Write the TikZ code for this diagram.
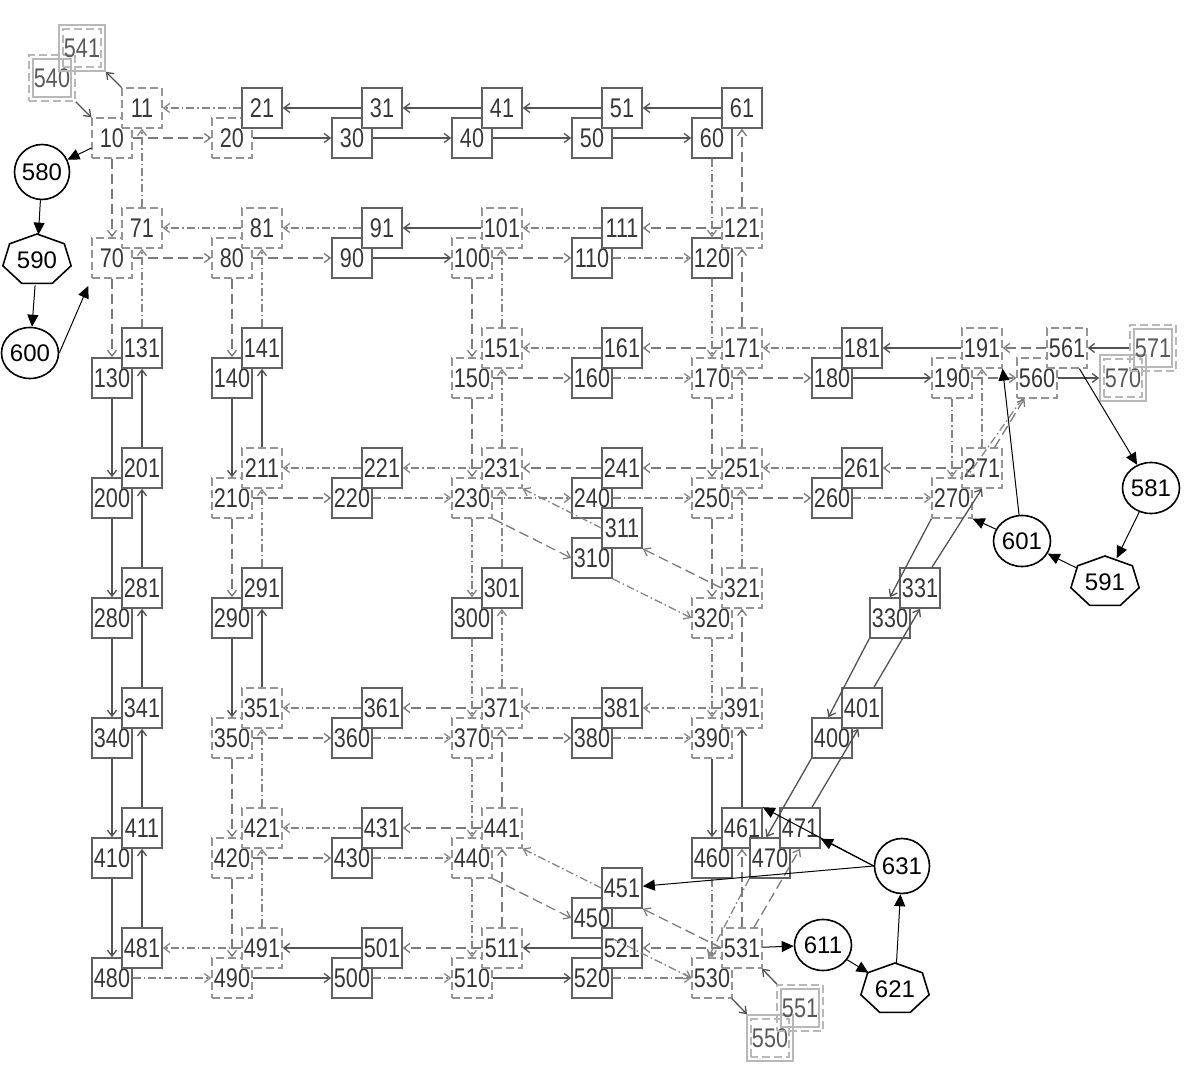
\documentclass[tikz,border=0pt]{standalone}
\usepackage{fontspec}
\setmainfont{Liberation Sans}
\newfontfamily\cellfont[FakeStretch=0.8]{Liberation Sans}
\usetikzlibrary{arrows.meta,calc,shapes.geometric}
\tikzset{
  cell/.style={rectangle, draw=black!62, line width=0.8pt, fill=white, minimum size=20pt, inner sep=0pt, text=black!78, font=\cellfont\fontsize{13.5}{13.5}\selectfont},
  dcell/.style={cell, draw=black!42, line width=0.6pt, dash pattern=on 4pt off 2pt},
  port/.style={cell, fill=none, draw=black!28, minimum size=23pt, text=black!65},
  dport/.style={port, dash pattern=on 4pt off 2pt},
  ring/.style={circle, draw=black, line width=0.8pt, minimum size=27.5pt, inner sep=0pt, font=\fontsize{12}{12}\selectfont},
  oval/.style={ring, ellipse, minimum width=28.5pt, minimum height=25.5pt},
  hepta/.style={ellipse, minimum width=34pt, minimum height=25pt, inner sep=0pt, font=\fontsize{12}{12}\selectfont},
  link/.style={draw=black!68, line width=0.65pt, -{Straight Barb[length=3pt,width=4.5pt]}},
  dlink/.style={link, draw=black!52, dash pattern=on 5pt off 2.5pt},
  ddlink/.style={link, draw=black!48, dash pattern=on 4pt off 1.5pt on 0.8pt off 1.5pt},
  hub/.style={draw=black, line width=0.5pt, -{Triangle[length=6pt,width=5.5pt]}}
}
\newcommand\heptshape[1]{\draw[line width=0.8pt] ($(#1)+(0,-26)$) \foreach \k in {1,...,6}{ -- ($(#1)+({35*sin(\k*360/7)},{-26*cos(\k*360/7)})$)} -- cycle;}

\begin{document}
\begin{tikzpicture}[x=0.5pt, y=-0.5pt]
			%%%%% START %%%%%
			\useasboundingbox (0,0) rectangle (1204,1068);

			% side ports
			\node[dport] (n540) at (52,78) {540};
			\node[port] (n541) at (82,48) {541};

			% row 0
			\node[dcell] (n10) at (112,138) {10};
			\node[dcell] (n11) at (142,108) {11};
			\node[dcell] (n20) at (232,138) {20};
			\node[cell] (n21) at (262,108) {21};
			\node[cell] (n30) at (352,138) {30};
			\node[cell] (n31) at (382,108) {31};
			\node[cell] (n40) at (472,138) {40};
			\node[cell] (n41) at (502,108) {41};
			\node[cell] (n50) at (592,138) {50};
			\node[cell] (n51) at (622,108) {51};
			\node[cell] (n60) at (712,138) {60};
			\node[cell] (n61) at (742,108) {61};

			% row 1
			\node[dcell] (n70) at (112,258) {70};
			\node[dcell] (n71) at (142,228) {71};
			\node[dcell] (n80) at (232,258) {80};
			\node[dcell] (n81) at (262,228) {81};
			\node[cell] (n90) at (352,258) {90};
			\node[cell] (n91) at (382,228) {91};
			\node[dcell] (n100) at (472,258) {100};
			\node[dcell] (n101) at (502,228) {101};
			\node[cell] (n110) at (592,258) {110};
			\node[cell] (n111) at (622,228) {111};
			\node[cell] (n120) at (712,258) {120};
			\node[dcell] (n121) at (742,228) {121};

			% row 2
			\node[cell] (n130) at (112,378) {130};
			\node[cell] (n131) at (142,348) {131};
			\node[cell] (n140) at (232,378) {140};
			\node[cell] (n141) at (262,348) {141};
			\node[dcell] (n150) at (472,378) {150};
			\node[dcell] (n151) at (502,348) {151};
			\node[cell] (n160) at (592,378) {160};
			\node[cell] (n161) at (622,348) {161};
			\node[dcell] (n170) at (712,378) {170};
			\node[dcell] (n171) at (742,348) {171};
			\node[cell] (n180) at (832,378) {180};
			\node[cell] (n181) at (862,348) {181};
			\node[dcell] (n190) at (952,378) {190};
			\node[dcell] (n191) at (982,348) {191};

			% row 3
			\node[cell] (n200) at (112,498) {200};
			\node[cell] (n201) at (142,468) {201};
			\node[dcell] (n210) at (232,498) {210};
			\node[dcell] (n211) at (262,468) {211};
			\node[cell] (n220) at (352,498) {220};
			\node[cell] (n221) at (382,468) {221};
			\node[dcell] (n230) at (472,498) {230};
			\node[dcell] (n231) at (502,468) {231};
			\node[cell] (n240) at (592,498) {240};
			\node[cell] (n241) at (622,468) {241};
			\node[dcell] (n250) at (712,498) {250};
			\node[dcell] (n251) at (742,468) {251};
			\node[cell] (n260) at (832,498) {260};
			\node[cell] (n261) at (862,468) {261};
			\node[dcell] (n270) at (952,498) {270};
			\node[dcell] (n271) at (982,468) {271};

			% row 4
			\node[cell] (n280) at (112,618) {280};
			\node[cell] (n281) at (142,588) {281};
			\node[cell] (n290) at (232,618) {290};
			\node[cell] (n291) at (262,588) {291};
			\node[cell] (n300) at (472,618) {300};
			\node[cell] (n301) at (502,588) {301};
			\node[cell] (n310) at (592,558) {310};
			\node[cell] (n311) at (622,528) {311};
			\node[dcell] (n320) at (712,618) {320};
			\node[dcell] (n321) at (742,588) {321};
			\node[cell] (n330) at (890,618) {330};
			\node[cell] (n331) at (920,588) {331};

			% row 5
			\node[cell] (n340) at (112,738) {340};
			\node[cell] (n341) at (142,708) {341};
			\node[dcell] (n350) at (232,738) {350};
			\node[dcell] (n351) at (262,708) {351};
			\node[cell] (n360) at (352,738) {360};
			\node[cell] (n361) at (382,708) {361};
			\node[dcell] (n370) at (472,738) {370};
			\node[dcell] (n371) at (502,708) {371};
			\node[cell] (n380) at (592,738) {380};
			\node[cell] (n381) at (622,708) {381};
			\node[dcell] (n390) at (712,738) {390};
			\node[dcell] (n391) at (742,708) {391};
			\node[cell] (n400) at (832,738) {400};
			\node[cell] (n401) at (862,708) {401};

			% row 6
			\node[cell] (n410) at (112,858) {410};
			\node[cell] (n411) at (142,828) {411};
			\node[dcell] (n420) at (232,858) {420};
			\node[dcell] (n421) at (262,828) {421};
			\node[cell] (n430) at (352,858) {430};
			\node[cell] (n431) at (382,828) {431};
			\node[dcell] (n440) at (472,858) {440};
			\node[dcell] (n441) at (502,828) {441};
			\node[cell] (n450) at (592,918) {450};
			\node[cell] (n451) at (622,888) {451};
			\node[cell] (n460) at (712,858) {460};
			\node[cell] (n461) at (742,828) {461};
			\node[cell] (n470) at (770,858) {470};
			\node[cell] (n471) at (800,828) {471};

			% row 7
			\node[cell] (n480) at (112,978) {480};
			\node[cell] (n481) at (142,948) {481};
			\node[dcell] (n490) at (232,978) {490};
			\node[dcell] (n491) at (262,948) {491};
			\node[cell] (n500) at (352,978) {500};
			\node[cell] (n501) at (382,948) {501};
			\node[dcell] (n510) at (472,978) {510};
			\node[dcell] (n511) at (502,948) {511};
			\node[cell] (n520) at (592,978) {520};
			\node[cell] (n521) at (622,948) {521};
			\node[dcell] (n530) at (712,978) {530};
			\node[dcell] (n531) at (742,948) {531};

			% other ports
			\node[port] (n550) at (770,1038) {550};
			\node[dport] (n551) at (800,1008) {551};
			\node[dcell] (n560) at (1037,378) {560};
			\node[dcell] (n561) at (1067,348) {561};
			\node[port] (n570) at (1123,378) {570};
			\node[dport] (n571) at (1153,348) {571};

			\foreach \n in {541,550,570}
				\draw[black!28, line width=0.8pt, dash pattern=on 4pt off 2pt] ($(n\n.south west)+(2.5pt,2.5pt)$) rectangle ($(n\n.north east)+(-2.5pt,-2.5pt)$);
			\foreach \n in {540,551,571}
				\draw[black!28, line width=0.8pt] ($(n\n.south west)+(2.5pt,2.5pt)$) rectangle ($(n\n.north east)+(-2.5pt,-2.5pt)$);

			% hubs
			\node[ring] (n580) at (42,172) {580};
			\node[hepta] (n590) at (37,260) {590};
			\node[oval] (n600) at (30,353) {600};
			\node[oval] (n581) at (1151,488) {581};
			\node[hepta] (n591) at (1105,582) {591};
			\node[oval] (n601) at (1022,541) {601};
			\node[oval] (n611) at (823,945) {611};
			\node[hepta] (n621) at (895,989) {621};
			\node[ring] (n631) at (902,866) {631};
			\heptshape{n590}
			\heptshape{n591}
			\heptshape{n621}

			% solid links
			\foreach \a/\b in {20/30,30/40,40/50,50/60,61/51,51/41,41/31,31/21,90/100,101/91,180/190,191/181,560/570,571/561,130/200,201/131,140/210,211/141,200/280,281/201,280/340,341/281,290/350,351/291,340/410,411/341,390/460,461/391,410/480,481/411,490/500,501/491,510/520,521/511,11/541,540/10,530/550,551/531}
				\draw[link] (n\a) -- (n\b);
			\draw[link] (n270.south west) -- (n330.north);
			\draw[link] (n331.60) -- (n271.south);
			\draw[link] (n330.south west) -- (n400.100);
			\draw[link] (n401.60) -- (n331.south);
			\draw[link] (n400.south west) -- (n470.100);
			\draw[link] (n471.60) -- (n401.260);

			% dashed links
			\foreach \a/\b in {10/20,70/80,80/90,100/110,121/111,171/161,150/160,170/180,190/560,561/191,210/220,250/260,271/261,251/241,241/231,350/360,370/380,371/361,420/430,441/431,531/521,511/501,121/61,10/70,70/130,80/140,100/150,150/230,171/121,170/250,250/320,391/321,210/290,350/420,420/490,441/371,511/441,531/461,271/560}
				\draw[dlink] (n\a) -- (n\b);
			\draw[dlink] (n230.south east) -- (n310.west);
			\draw[dlink] (n321.west) -- (n311.south east);
			\draw[dlink] (n440.south east) -- (n450.west);
			\draw[dlink] (n531.west) -- (n451.south east);
			\draw[dlink] (n531.60) -- (n471.south);

			% dash-dot links
			\foreach \a/\b in {21/11,111/101,91/81,81/71,110/120,160/170,181/171,161/151,220/230,230/240,240/250,260/270,261/251,231/221,221/211,360/370,380/390,391/381,381/371,361/351,430/440,431/421,480/490,500/510,520/530,491/481,71/11,131/71,141/81,291/211,421/351,491/421,151/101,231/151,230/300,301/231,300/370,371/301,370/440,440/510,60/120,120/170,251/171,321/251,320/390,460/530,190/270,271/191,560/270}
				\draw[ddlink] (n\a) -- (n\b);
			\draw[ddlink] (n311.west) -- (n231.south east);
			\draw[ddlink] (n310.south east) -- (n320.west);
			\draw[ddlink] (n451.west) -- (n441.south east);
			\draw[ddlink] (n450.south east) -- (n530.west);
			\draw[ddlink] (n470.south west) -- (n530.100);

			% hub links
			\draw[hub] (n10) -- (n580);
			\draw[hub] (n580) -- (n590);
			\draw[hub] (n590) -- (n600);
			\draw[hub, shorten >=4pt] (n600.east) -- (n70.south west);
			\draw[hub] (n561) -- (n581);
			\draw[hub] (n581) -- (n591);
			\draw[hub] (n591) -- (n601);
			\draw[hub] (n601) -- (n270.south east);
			\draw[hub] (n601) -- (n191.south east);
			\draw[hub] (n531) -- (n611);
			\draw[hub] (n611) -- (n621);
			\draw[hub] (n621) -- (n631);
			\draw[hub] (n631.west) -- (n461.north east);
			\draw[hub] (n631.west) -- (n471);
			\draw[hub] (n631.west) -- (n451);

			%%%%% END %%%%%
\end{tikzpicture}
\end{document}
